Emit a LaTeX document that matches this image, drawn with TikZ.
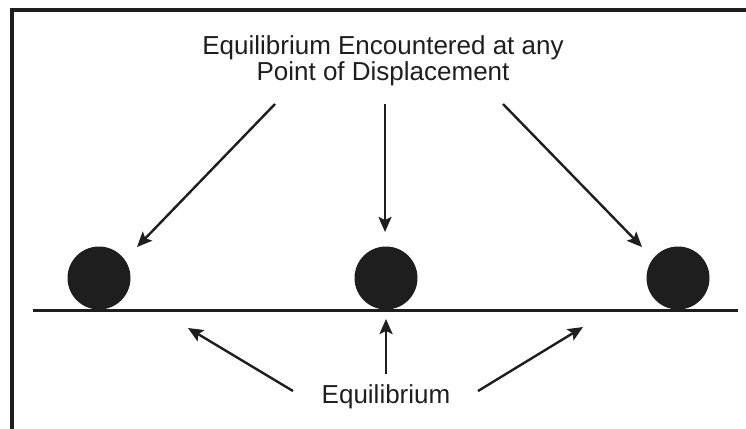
\documentclass[tikz,border=0pt]{standalone}
\usepackage{fontspec}
\setmainfont{Liberation Sans}
\usetikzlibrary{arrows.meta}
\definecolor{ink}{HTML}{1E1E1E}
\begin{document}
\begin{tikzpicture}[x=1pt,y=-1pt,
  ball/.style={circle,fill=ink,draw=none,minimum size=63pt,inner sep=0pt},
  lbl/.style={text=ink,font=\fontsize{26}{30}\selectfont,inner sep=0pt,anchor=base},
  arr/.style={draw=ink,line width=2.4pt,-{Stealth[length=15pt,width=13pt,inset=3pt]}}]
\useasboundingbox (0,0) rectangle (746,428);
% frame (top and left edges visible)
\draw[ink,line width=4pt] (12,432) -- (12,10) -- (750,10);
% ground line
\draw[ink,line width=3pt] (33,310) -- (738,310);
% balls
\node[ball] (b1) at (99,278) {};
\node[ball] (b2) at (386,278) {};
\node[ball] (b3) at (678,278) {};
% labels
\node[lbl] (t1) at (383,55) {Equilibrium Encountered at any};
\node[lbl] (t2) at (383,81) {Point of Displacement};
\node[lbl] (eq) at (386,403) {Equilibrium};
% arrow ends
\coordinate (a1s) at (275,104); \coordinate (a1e) at (137,247);
\coordinate (a2s) at (385,104); \coordinate (a2e) at (385,232);
\coordinate (a3s) at (503,104); \coordinate (a3e) at (642,247);
\coordinate (c1s) at (293,391); \coordinate (c1e) at (188,328);
\coordinate (c2s) at (386,374); \coordinate (c2e) at (386,319);
\coordinate (c3s) at (478,391); \coordinate (c3e) at (583,327);
\draw[arr] (a1s) -- (a1e);
\draw[arr] (a2s) -- (a2e);
\draw[arr] (a3s) -- (a3e);
\draw[arr] (c1s) -- (c1e);
\draw[arr] (c2s) -- (c2e);
\draw[arr] (c3s) -- (c3e);
\end{tikzpicture}
\end{document}
